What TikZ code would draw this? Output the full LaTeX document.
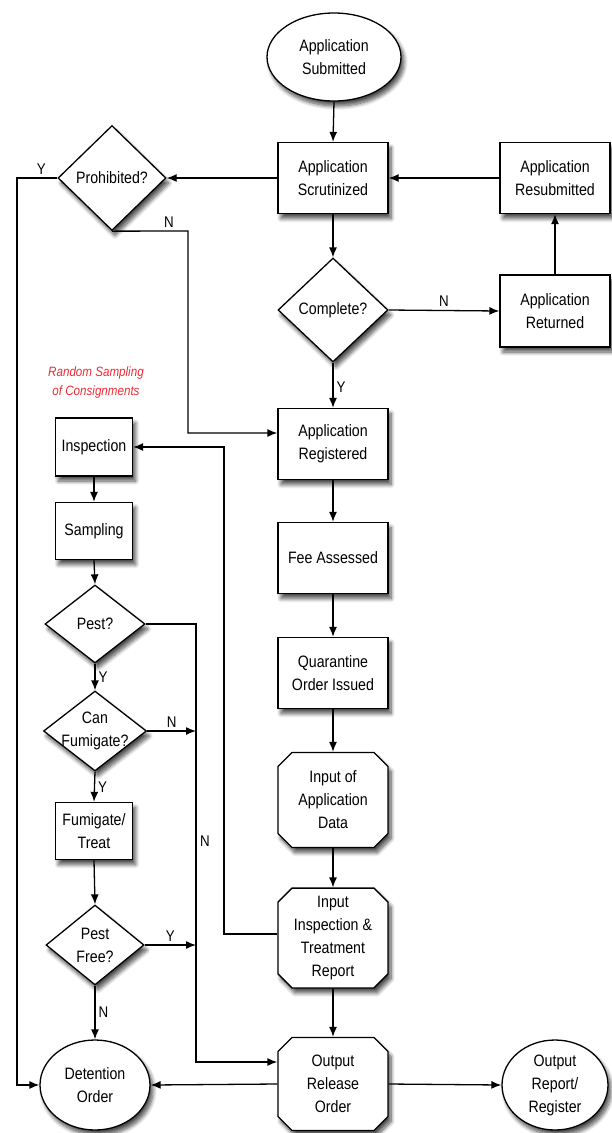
\documentclass[tikz,border=0pt]{standalone}
\usepackage{fontspec}
\setmainfont[FakeStretch=0.86]{Liberation Sans}
\usetikzlibrary{shapes.geometric,shapes.misc,arrows.meta,shadows.blur,calc}
\definecolor{notered}{HTML}{EE2A35}
\begin{document}
\begin{tikzpicture}[x=1pt,y=-1pt,
  every node/.style={font=\fontsize{16.5}{23}\selectfont, align=center},
  shad/.style={blur shadow={shadow xshift=3pt, shadow yshift=-5pt, shadow blur radius=4pt, shadow blur steps=8, shadow opacity=70}},
  box/.style={draw, line width=1.3pt, fill=white, inner sep=2pt, minimum width=110, minimum height=71, shad},
  sbox/.style={box, minimum width=77, minimum height=58},
  cbox/.style={chamfered rectangle, chamfered rectangle xsep=7pt, chamfered rectangle ysep=7pt, draw, line width=1.3pt, fill=white, inner sep=1pt, minimum width=110, shad},
  oval/.style={ellipse, draw, line width=1.3pt, fill=white, inner sep=0pt, shad},
  dia/.style={diamond, draw, line width=1.3pt, fill=white, inner sep=0pt, shad},
  arr/.style={line width=1.3pt, -{Latex[length=10pt,width=8pt]}},
  yn/.style={font=\fontsize{15.5}{18}\selectfont, inner sep=3pt}
]
\useasboundingbox (0,0) rectangle (611,1133);

% right column
\node[oval, minimum width=134, minimum height=88] (sub) at (334,57) {Application\\Submitted};
\node[box] (scr) at (333,178) {Application\\Scrutinized};
\node[box] (resub) at (555,178) {Application\\Resubmitted};
\node[dia, minimum width=110, minimum height=104, label={center:Complete?}] (comp) at (333,310) {};
\node[box, minimum height=72] (ret) at (555,311) {Application\\Returned};
\node[dia, minimum width=108, minimum height=105, label={center:Prohibited?}] (proh) at (112,178) {};
\node[box] (reg) at (333,444) {Application\\Registered};
\node[box] (fee) at (333,558) {Fee Assessed};
\node[box] (qo) at (333,673) {Quarantine\\Order Issued};
\node[cbox, minimum height=95] (inp) at (333,800) {Input of\\Application\\Data};
\node[cbox, minimum height=95] (iit) at (333,938) {Input\\Inspection \&\\Treatment\\Report};
\node[cbox, minimum height=93] (out) at (333,1084) {Output\\Release\\Order};
\node[oval, minimum width=110, minimum height=90] (det) at (95,1085) {Detention\\Order};
\node[oval, minimum width=106, minimum height=90] (rep) at (555,1085) {Output\\Report/\\Register};

% left column
\node[font=\fontsize{13.5}{19}\selectfont\itshape, text=notered] (note) at (96,383) {Random Sampling\\of Consignments};
\node[sbox] (insp) at (94,447) {Inspection};
\node[sbox, minimum height=57] (samp) at (94,531) {Sampling};
\node[dia, minimum width=100, minimum height=78, label={center:Pest?}] (pest) at (95,624) {};
\node[dia, minimum width=103, minimum height=80, label={center:Can\\Fumigate?}] (cf) at (95,731) {};
\node[sbox, minimum height=57] (fum) at (94,831) {Fumigate/\\Treat};
\node[dia, minimum width=98, minimum height=80, label={center:Pest\\Free?}] (pf) at (95,945) {};

% coordinates
\coordinate (pl) at (17,178);
\coordinate (pn) at (188,231);
\coordinate (il) at (224,934);
\coordinate (pr) at (196,624);

% connectors right
\draw[arr] (sub.south) -- (scr.north);
\draw[arr] (scr.west) -- (proh.east);
\draw[arr] (resub.west) -- (scr.east);
\draw[arr] (scr.south) -- (comp.north);
\draw[arr] (comp.east) -- node[yn, above] (lcn) {N} (ret.west);
\draw[arr] (ret.north) -- (resub.south);
\draw[arr] (comp.south) -- node[yn, right, pos=.55] (lcy) {Y} (reg.north);
\draw[arr] (reg.south) -- (fee.north);
\draw[arr] (fee.south) -- (qo.north);
\draw[arr] (qo.south) -- (inp.north);
\draw[arr] (inp.south) -- (iit.north);
\draw[arr] (iit.south) -- (out.north);
\draw[arr] (out.west) -- (det.east);
\draw[arr] (out.east) -- (rep.west);

% prohibited
\draw[arr] (proh.west) -- node[yn, above, pos=.4] (lpy) {Y} (pl) |- (det.west);
\draw[arr] (proh.south) -- node[yn, above, pos=.75] (lpn) {N} (pn) |- ($(reg.west)+(0,-11)$);

% inspection loop
\draw[arr] ($(iit.west)+(0,-4)$) -- (il) |- (insp.east);

% left chain
\draw[arr] (insp.south) -- (samp.north);
\draw[arr] (samp.south) -- (pest.north);
\draw[arr] (pest.south) -- node[yn, right] (lpy2) {Y} (cf.north);
\draw[arr] (cf.south) -- node[yn, right] (lcy2) {Y} (fum.north);
\draw[arr] (fum.south) -- (pf.north);
\draw[arr] (pf.south) -- node[yn, right] (lpfn) {N} (det.north);
\draw[arr] (pest.east) -- (pr) |- ($(out.west)+(0,-22)$);
\draw[arr] (cf.east) -- node[yn, above] (lcfn) {N} (pr |- cf.east);
\draw[arr] (pf.east) -- node[yn, above] (lpfy) {Y} (pr |- pf.east);
\node[yn] (lvn) at (205,841) {N};
\end{tikzpicture}
\end{document}
